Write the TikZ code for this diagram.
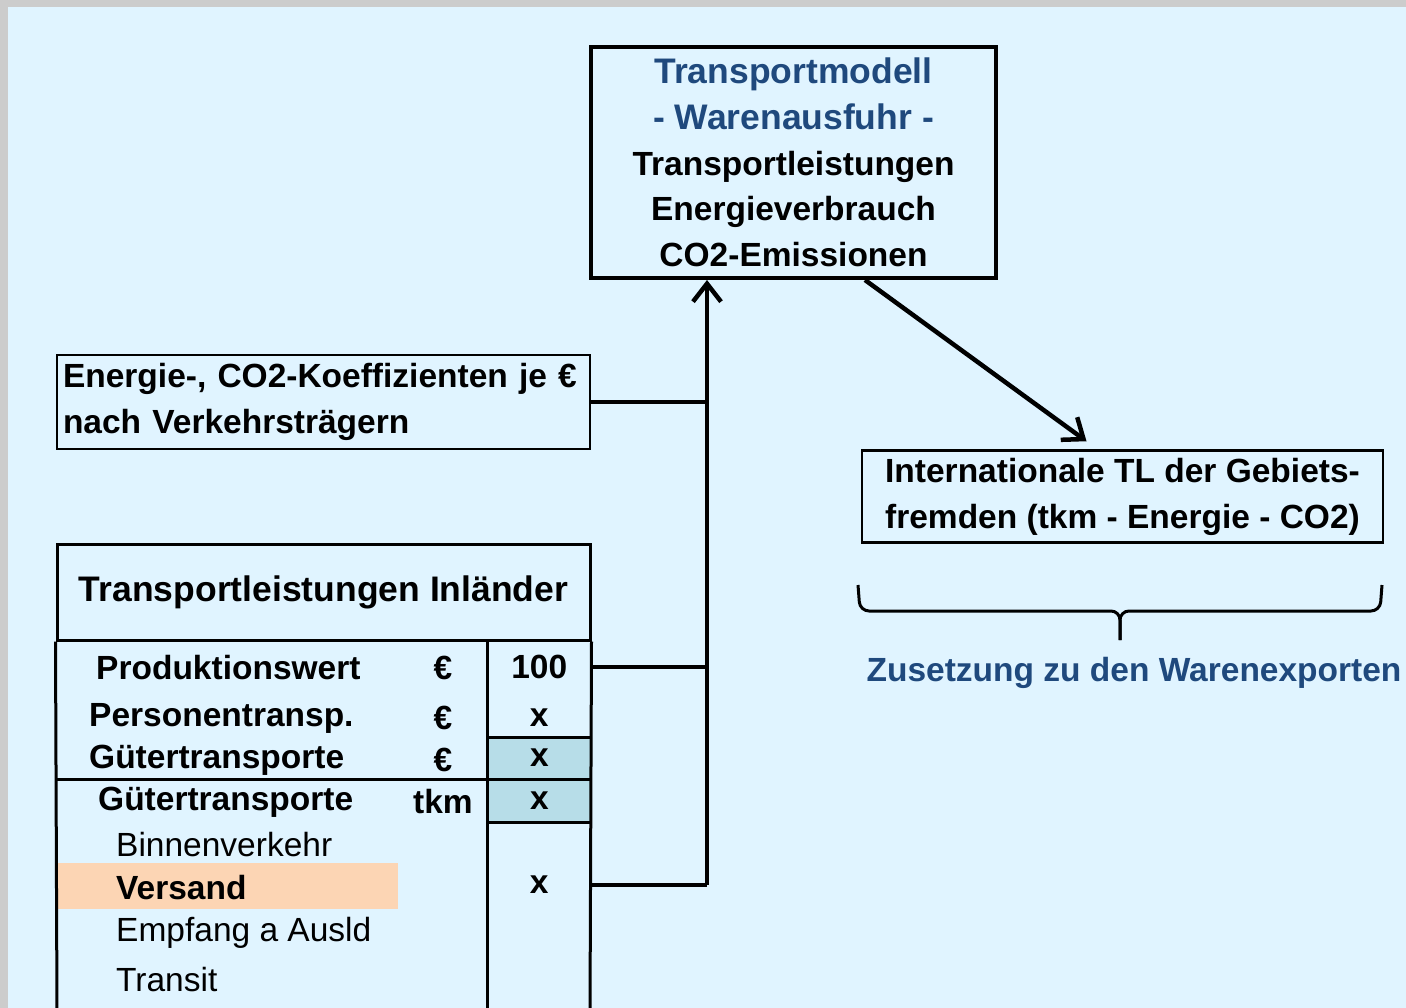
\documentclass[tikz,border=0pt]{standalone}
\usepackage{fontspec}
\setmainfont{Liberation Sans}
\usetikzlibrary{arrows.meta,positioning}
\definecolor{hellblau}{HTML}{E0F4FF}
\definecolor{rahmen}{HTML}{CCCCCC}
\definecolor{titelblau}{HTML}{1F497D}
\definecolor{zelle}{HTML}{B7DDE8}
\definecolor{pfirsich}{HTML}{FCD5B4}
\tikzset{
    >={Straight Barb[length=18pt,width=28pt]},
    modellbox/.style={
        rectangle,
        draw=black, line width=4pt,
        minimum width=405pt,
        minimum height=231pt,
        align=center,
        font=\bfseries\fontsize{33.5}{45.75}\selectfont
    },
    infobox/.style={
        rectangle,
        draw=black, line width=2.5pt,
        minimum height=92pt,
        font=\bfseries\fontsize{33.5}{46}\selectfont
    },
    cell/.style={
        rectangle,
        minimum width=103.5pt,
        minimum height=42.5pt,
        inner sep=0pt,
        font=\bfseries\fontsize{33.5}{40}\selectfont
    },
    zeile/.style={anchor=west, inner sep=0pt, font=\bfseries\fontsize{33.5}{40}\selectfont},
    unter/.style={anchor=west, inner sep=0pt, font=\fontsize{33.5}{40}\selectfont},
    conn/.style={draw, line width=4.5pt},
    gitter/.style={draw, line width=3pt},
    klammer/.style={draw, line width=3pt, rounded corners=9pt}
}
\begin{document}
\begin{tikzpicture}[x=1pt, y=-1pt]
    \fill[rahmen] (0,0) rectangle (1406,1008);
    \fill[hellblau] (8,7) rectangle (1406,1008);
    \useasboundingbox (0,0) rectangle (1406,1008);

    \node[modellbox] (modell) at (793.5,162.5) {{\color{titelblau}\fontsize{35.5}{45.75}\selectfont Transportmodell}\\{\color{titelblau}\fontsize{35.5}{45.75}\selectfont - Warenausfuhr -}\\Transportleistungen\\Energieverbrauch\\CO2-Emissionen};
    \node[infobox, minimum width=533pt, minimum height=94pt, text width=521pt, align=left] (koeff) at (323.5,402) {Energie-, CO2-Koeffizienten je €\\nach Verkehrsträgern};
    \node[infobox, minimum width=521pt, align=center] (intl) at (1122.5,496.5) {Internationale TL der Gebiets-\\fremden (tkm - Energie - CO2)};

    \node[infobox, line width=3pt, minimum width=533pt, minimum height=96pt, font=\bfseries\fontsize{35.5}{40}\selectfont] (kopf) at (323.5,592) {Transportleistungen Inländer};
    \fill[pfirsich] (58,863) rectangle (398,909);
    \foreach \y/\x/\name/\einheit in {668/96/Produktionswert/€, 718/89/Personentransp./€, 760/89/Gütertransporte/€, 802/98/Gütertransporte/tkm}{
        \node[zeile] (zeile\y) at (\x,\y) {\name};
        \node[cell] (einheit\y) at (443,\y) {\einheit};
    }
    \foreach \y/\name in {845/Binnenverkehr, 933/Empfang a Ausld, 980/Transit}
        \node[unter] (unter\y) at (116,\y) {\name};
    \node[zeile] (versand) at (116,888) {Versand};
    \node[cell] (wert) at (539.25,667) {100};
    \node[cell] (pers) at (539.25,718) {x};
    \node[cell, fill=zelle, minimum width=103pt, minimum height=42pt] (gueter) at (539.5,758) {x};
    \node[cell, fill=zelle, minimum width=103pt, minimum height=42pt] (tkm) at (539.5,800.5) {x};
    \node[cell] (versx) at (539.25,885) {x};
    \draw[gitter] (kopf.south west) -- (57,1012);
    \draw[gitter] (kopf.south east) -- (590,1012);
    \draw[gitter] (487.5,640) -- (487.5,1012);
    \draw[gitter] (57,779) -- (590,779);
    \draw[gitter] (487.5,737) -- (590,737);
    \draw[gitter] (487.5,822) -- (590,822);

    \coordinate (knoten) at (707,885);
    \draw[conn] (versx.east) -- (knoten);
    \draw[conn] (wert.east) -- (wert.east -| knoten);
    \draw[conn] (koeff.east) -- (koeff.east -| knoten);
    \draw[conn, ->] (knoten) -- (knoten |- modell.south);
    \draw[conn, ->] ([xshift=71.5pt]modell.south) -- ([xshift=-36pt, yshift=8pt]intl.north);

    \draw[klammer] (858,585) -- (860,611) -- (1120,611) -- (1120,640);
    \draw[klammer] (1382,585) -- (1380,611) -- (1120,611) -- (1120,640);
    \node[font=\bfseries\fontsize{33.5}{40}\selectfont, text=titelblau] (zusatz) at (1134,673) {Zusetzung zu den Warenexporten};
\end{tikzpicture}
\end{document}
